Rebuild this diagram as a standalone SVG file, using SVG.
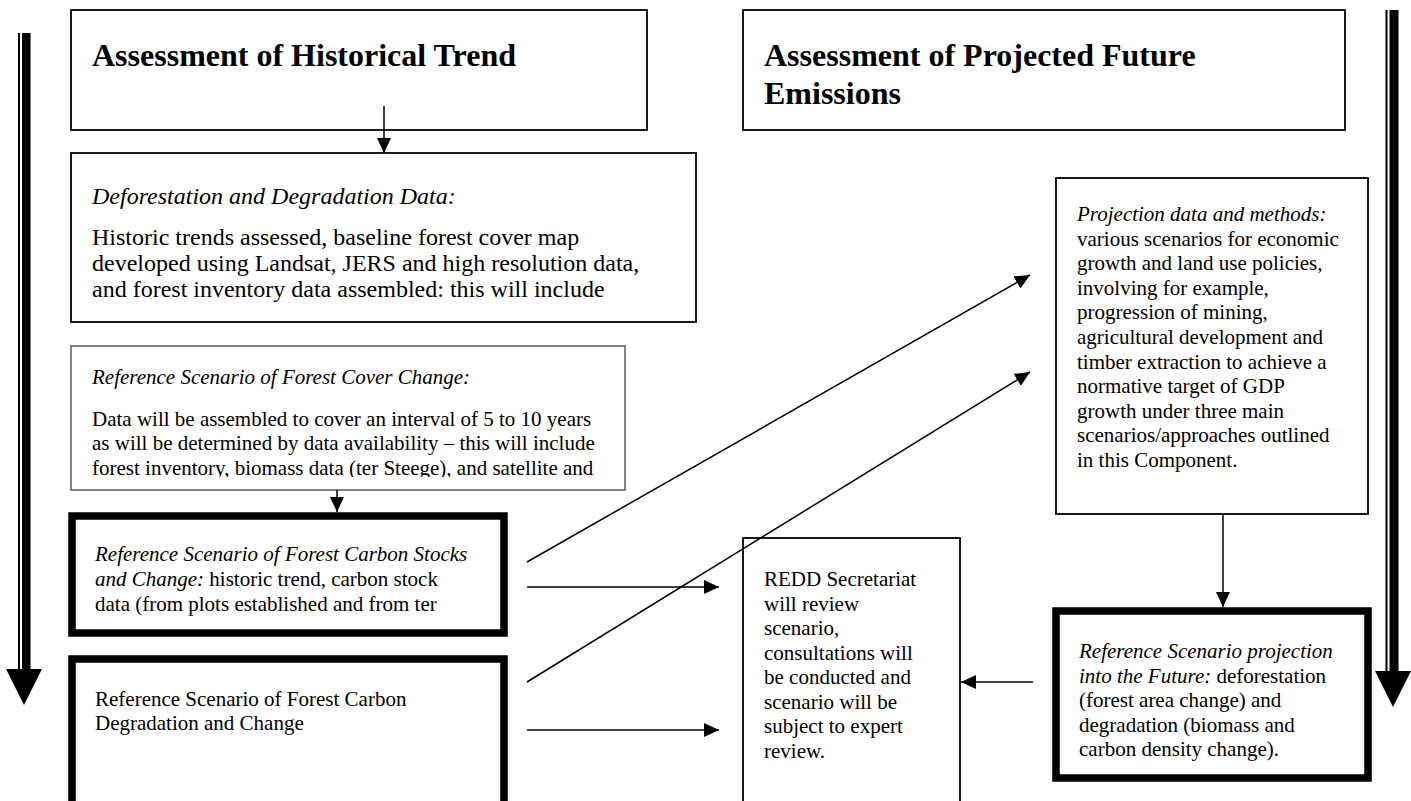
<svg xmlns="http://www.w3.org/2000/svg" width="1411" height="801" viewBox="0 0 1411 801">
<style>
text { font-family: "Liberation Serif", "Times New Roman", serif; fill: #000; }
.h { font-size: 32px; font-weight: bold; }
.b24 { font-size: 24px; }
.b21 { font-size: 21px; }
.i { font-style: italic; }
.box { fill: #fff; stroke: #000; stroke-width: 1.8; }
.thinbox { fill: #fff; stroke: #333; stroke-width: 1.2; }
.thick { fill: #fff; stroke: #000; stroke-width: 7.5; }
.conn { stroke: #000; stroke-width: 1.5; fill: none; marker-end: url(#ah); }
</style>
<defs>
<marker id="ah" markerUnits="userSpaceOnUse" markerWidth="15" markerHeight="14" refX="15" refY="7" orient="auto" viewBox="0 0 15 14"><path d="M0,0 L15,7 L0,14 z" fill="#000"/></marker>
<clipPath id="clipC"><rect x="72" y="347" width="552" height="130"/></clipPath>
</defs>
<rect x="0" y="0" width="1411" height="801" fill="#fff"/>

<g id="flow-left">
<rect x="18" y="33" width="2" height="637" fill="#000"/>
<rect x="22" y="33" width="8.5" height="637" fill="#000"/>
<polygon points="6,669 42,669 24,705" fill="#000"/>
</g>
<g id="flow-right">
<rect x="1385.5" y="10" width="2" height="662" fill="#000"/>
<rect x="1389.5" y="10" width="9" height="662" fill="#000"/>
<polygon points="1375,671 1411,671 1393,707" fill="#000"/>
</g>

<g id="historical-trend">
<rect class="box" x="71" y="10" width="576" height="120"/>
<text class="h" x="92" y="66">Assessment of Historical Trend</text>
</g>

<g id="projected-emissions">
<rect class="box" x="743" y="10" width="602" height="120"/>
<text class="h" x="764" y="66">Assessment of Projected Future</text>
<text class="h" x="764" y="104">Emissions</text>
</g>

<g id="deforestation-data">
<rect class="box" x="71" y="153" width="625" height="169"/>
<text class="b24 i" x="92" y="204">Deforestation and Degradation Data:</text>
<text class="b24" x="92" y="245">Historic trends assessed, baseline forest cover map</text>
<text class="b24" x="92" y="271">developed using Landsat, JERS and high resolution data,</text>
<text class="b24" x="92" y="297">and forest inventory data assembled: this will include</text>
</g>

<g id="forest-cover-change">
<rect class="thinbox" x="71" y="346" width="554" height="144"/>
<g clip-path="url(#clipC)">
<text class="b21 i" x="92" y="384">Reference Scenario of Forest Cover Change:</text>
<text class="b21" x="92" y="426">Data will be assembled to cover an interval of 5 to 10 years</text>
<text class="b21" x="92" y="450">as will be determined by data availability – this will include</text>
<text class="b21" x="92" y="475">forest inventory, biomass data (ter Steege), and satellite and</text>
</g>
</g>

<g id="carbon-stocks">
<rect class="thick" x="72" y="516" width="432" height="117"/>
<text class="b21 i" x="95" y="561">Reference Scenario of Forest Carbon Stocks</text>
<text class="b21" x="95" y="586"><tspan class="i">and Change:</tspan> historic trend, carbon stock</text>
<text class="b21" x="95" y="611">data (from plots established and from ter</text>
</g>

<g id="carbon-degradation">
<rect class="thick" x="72" y="659" width="432" height="170"/>
<text class="b21" x="95" y="706">Reference Scenario of Forest Carbon</text>
<text class="b21" x="95" y="730">Degradation and Change</text>
</g>

<g id="redd-secretariat">
<rect class="box" x="743" y="538" width="217" height="290"/>
<text class="b21" x="764" y="586">REDD Secretariat</text>
<text class="b21" x="764" y="610.5">will review</text>
<text class="b21" x="764" y="635">scenario,</text>
<text class="b21" x="764" y="659.5">consultations will</text>
<text class="b21" x="764" y="684">be conducted and</text>
<text class="b21" x="764" y="708.5">scenario will be</text>
<text class="b21" x="764" y="733">subject to expert</text>
<text class="b21" x="764" y="757.5">review.</text>
</g>

<g id="projection-data">
<rect class="box" x="1056" y="178" width="312" height="336"/>
<text class="b21 i" x="1077" y="221">Projection data and methods:</text>
<text class="b21" x="1077" y="245.6">various scenarios for economic</text>
<text class="b21" x="1077" y="270.2">growth and land use policies,</text>
<text class="b21" x="1077" y="294.8">involving for example,</text>
<text class="b21" x="1077" y="319.4">progression of mining,</text>
<text class="b21" x="1077" y="344">agricultural development and</text>
<text class="b21" x="1077" y="368.6">timber extraction to achieve a</text>
<text class="b21" x="1077" y="393.2">normative target of GDP</text>
<text class="b21" x="1077" y="417.8">growth under three main</text>
<text class="b21" x="1077" y="442.4">scenarios/approaches outlined</text>
<text class="b21" x="1077" y="467">in this Component.</text>
</g>

<g id="future-projection">
<rect class="thick" x="1056" y="611" width="312" height="167"/>
<text class="b21 i" x="1079" y="658">Reference Scenario projection</text>
<text class="b21" x="1079" y="682.5"><tspan class="i">into the Future:</tspan> deforestation</text>
<text class="b21" x="1079" y="707">(forest area change) and</text>
<text class="b21" x="1079" y="731.5">degradation (biomass and</text>
<text class="b21" x="1079" y="756">carbon density change).</text>
</g>

<g id="connectors">
<line class="conn" x1="384" y1="106" x2="384" y2="153"/>
<line class="conn" x1="337" y1="490" x2="337" y2="512"/>
<line class="conn" x1="527" y1="562" x2="1030" y2="275"/>
<line class="conn" x1="527" y1="682" x2="1030" y2="372"/>
<line class="conn" x1="527" y1="587" x2="719" y2="587"/>
<line class="conn" x1="527" y1="730" x2="719" y2="730"/>
<line class="conn" x1="1223" y1="514" x2="1223" y2="607"/>
<line class="conn" x1="1033" y1="682" x2="961" y2="682"/>
</g>
</svg>
